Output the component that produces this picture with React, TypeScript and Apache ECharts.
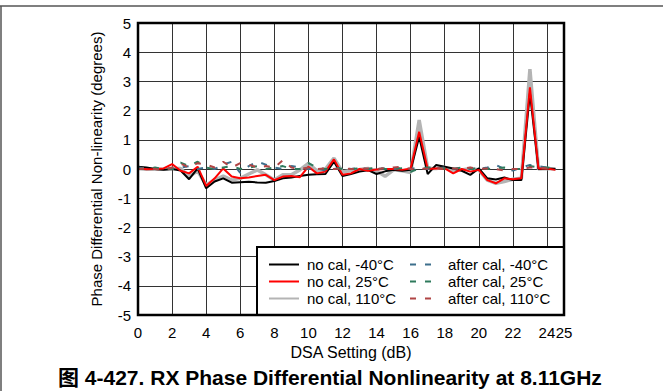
import React, { useEffect, useRef } from "react";
import * as echarts from "echarts";

const dsaSetting = [
  0, 0.5, 1, 1.5, 2, 2.5, 3, 3.5, 4, 4.5, 5, 5.5, 6, 6.5, 7, 7.5, 8, 8.5, 9, 9.5,
  10, 10.5, 11, 11.5, 12, 12.5, 13, 13.5, 14, 14.5, 15, 15.5, 16, 16.5, 17, 17.5,
  18, 18.5, 19, 19.5, 20, 20.5, 21, 21.5, 22, 22.5, 23, 23.5, 24, 24.5,
];

const noCalM40 = [
  0.08, 0.05, 0.0, -0.03, 0.0, -0.05, -0.35, 0.02, -0.66, -0.43, -0.32, -0.47, -0.45, -0.44, -0.46, -0.47, -0.41, -0.32, -0.29, -0.24,
  -0.2, -0.18, -0.17, 0.25, -0.24, -0.17, -0.09, -0.04, -0.17, -0.08, -0.03, -0.06, -0.03, 1.1, -0.17, 0.14,
  0.08, 0.02, -0.06, -0.2, 0.02, -0.32, -0.36, -0.29, -0.38, -0.38, 2.6, 0.0, 0.02, 0.0,
];
const noCal25 = [
  0.02, -0.01, 0.0, 0.02, 0.17, -0.06, -0.15, 0.08, -0.58, -0.32, 0.02, -0.26, -0.32, -0.29, -0.24, -0.2, -0.38, -0.26, -0.24, -0.28,
  0.08, -0.15, -0.09, 0.33, -0.2, -0.15, 0.0, -0.06, -0.02, 0.0, 0.0, -0.03, 0.02, 1.28, 0.0, 0.02,
  0.02, -0.15, 0.0, -0.09, -0.03, -0.38, -0.49, -0.32, -0.35, -0.32, 2.8, 0.02, 0.02, -0.03,
];
const noCal110 = [
  0.02, -0.01, -0.01, -0.01, 0.02, 0.02, -0.26, -0.06, -0.55, -0.38, -0.24, -0.38, -0.32, -0.17, -0.03, -0.2, -0.38, -0.2, -0.2, -0.03,
  0.19, -0.06, 0.0, 0.37, -0.1, -0.05, -0.02, 0.02, -0.06, -0.25, -0.03, -0.06, -0.12, 1.68, 0.02, 0.02,
  0.06, -0.06, -0.03, 0.02, -0.03, -0.38, -0.49, -0.43, -0.35, -0.32, 3.42, 0.0, 0.02, 0.0,
];
const afterCalM40 = [
  0.05, 0.02, 0.0, 0.03, 0.0, 0.05, 0.1, 0.0, 0.05, 0.0, 0.15, 0.25, -0.13, 0.1, 0.25, 0.15, 0.05, 0.0, 0.1, 0.05,
  0.0, 0.02, -0.05, 0.0, 0.05, 0.0, 0.03, 0.0, 0.0, 0.02, 0.0, 0.05, 0.0, 0.05, 0.0, 0.02,
  0.05, 0.0, 0.05, 0.0, 0.0, 0.05, 0.14, 0.0, -0.05, 0.05, 0.14, 0.1, 0.05, 0.0,
];
const afterCal25 = [
  0.02, 0.0, 0.05, 0.0, 0.0, 0.22, 0.1, 0.25, 0.05, 0.0, 0.05, 0.1, 0.0, 0.05, 0.1, 0.0, 0.05, 0.1, 0.0, 0.0,
  0.2, 0.05, 0.0, 0.05, 0.0, 0.0, 0.02, 0.0, 0.05, 0.0, 0.0, 0.03, -0.1, 0.02, 0.05, 0.05,
  0.02, 0.0, 0.05, 0.0, 0.03, 0.0, 0.02, 0.05, 0.0, 0.0, 0.1, 0.05, 0.05, 0.02,
];
const afterCal110 = [
  0.0, 0.03, 0.0, -0.03, 0.05, 0.18, 0.05, 0.2, 0.15, 0.05, 0.25, 0.05, 0.2, 0.15, 0.05, 0.1, 0.05, 0.3, 0.05, 0.0,
  0.05, 0.0, 0.02, 0.0, 0.03, 0.0, 0.0, 0.02, 0.0, 0.03, 0.05, 0.08, 0.0, 0.0, 0.02, 0.05,
  0.0, 0.02, 0.0, 0.05, 0.0, 0.02, 0.0, -0.05, 0.0, 0.0, 0.05, 0.05, 0.02, 0.0,
];

const seriesNames = [
  "no cal, -40°C",
  "no cal, 25°C",
  "no cal, 110°C",
  "after cal, -40°C",
  "after cal, 25°C",
  "after cal, 110°C",
];

const titleText = "图 4-427. RX Phase Differential Nonlinearity at 8.11GHz";
const xAxisName = "DSA Setting (dB)";
const yAxisName = "Phase Differential Non-linearity (degrees)";

const FONT = '"Liberation Sans", Arial, "Noto Sans CJK SC", sans-serif';

export default function App() {
  const ref = useRef<HTMLDivElement>(null);
  useEffect(() => {
    const chart = echarts.init(ref.current!, null, { renderer: "svg" });
    const pts = (ys: number[]) => dsaSetting.map((x, i) => [x, ys[i]]);
    const solid = (name: string, data: number[], color: string, width: number, z: number) => ({
      type: "line",
      name,
      data: pts(data),
      symbol: "none",
      z,
      lineStyle: { color, width },
      itemStyle: { color },
    });
    const dashed = (name: string, data: number[], color: string) => ({
      type: "line",
      name,
      data: pts(data),
      symbol: "none",
      z: 2,
      lineStyle: { color, width: 2, type: [6, 9] },
      itemStyle: { color },
    });
    const legendText = (padLeft: number) => ({
      fontSize: 15,
      fontFamily: FONT,
      color: "#000",
      lineHeight: 17,
      padding: [0, 0, 0, padLeft],
    });
    chart.setOption({
      animation: false,
      backgroundColor: "#fff",
      textStyle: { fontFamily: FONT },
      title: {
        text: titleText,
        left: 58,
        top: 367,
        padding: 0,
        textStyle: { fontSize: 21, fontWeight: "bold", fontFamily: FONT, color: "#000" },
      },
      grid: { left: 138, top: 23, width: 426, height: 292 },
      xAxis: {
        type: "value",
        min: 0,
        max: 25,
        interval: 2,
        name: xAxisName,
        nameLocation: "middle",
        nameGap: 22,
        nameTextStyle: { fontSize: 16, color: "#000", fontFamily: FONT },
        axisLine: { show: false },
        axisTick: { show: false },
        axisLabel: { fontSize: 15, color: "#000", margin: 10, fontFamily: FONT },
        splitLine: { show: true, lineStyle: { color: "#333", width: 1 } },
      },
      yAxis: {
        type: "value",
        min: -5,
        max: 5,
        interval: 1,
        name: yAxisName,
        nameLocation: "middle",
        nameGap: 34,
        nameTextStyle: { fontSize: 15, color: "#000", fontFamily: FONT },
        axisLine: { show: false },
        axisTick: { show: false },
        axisLabel: { fontSize: 15, color: "#000", margin: 7, fontFamily: FONT },
        splitLine: { show: true, lineStyle: { color: "#333", width: 1 } },
      },
      legend: [
        {
          data: seriesNames.slice(0, 3),
          left: 268,
          top: 256,
          orient: "vertical",
          itemWidth: 30,
          itemHeight: 10,
          itemGap: 0,
          padding: 0,
          selectedMode: false,
          itemStyle: { opacity: 0 },
          textStyle: legendText(3),
        },
        {
          data: seriesNames.slice(3),
          left: 409,
          top: 256,
          orient: "vertical",
          itemWidth: 21,
          itemHeight: 10,
          itemGap: 0,
          padding: 0,
          selectedMode: false,
          itemStyle: { opacity: 0 },
          textStyle: legendText(12),
        },
      ],
      graphic: [
        {
          type: "line",
          z: 10,
          shape: { x1: 0, y1: 6, x2: 663, y2: 6 },
          style: { stroke: "#555", lineWidth: 1.5 },
        },
        {
          type: "line",
          z: 10,
          shape: { x1: 1, y1: 6, x2: 1, y2: 391 },
          style: { stroke: "#555", lineWidth: 1.5 },
        },
        {
          type: "rect",
          z: 3,
          shape: { x: 257, y: 247, width: 307, height: 68 },
          style: { fill: "#fff", stroke: "#000", lineWidth: 2 },
        },
        {
          type: "rect",
          z: 5,
          shape: { x: 138, y: 23, width: 426, height: 292 },
          style: { fill: "none", stroke: "#000", lineWidth: 2.5 },
        },
      ],
      series: [
        solid(seriesNames[2], noCal110, "#b4b4b4", 3.5, 2),
        solid(seriesNames[0], noCalM40, "#000000", 2, 2),
        solid(seriesNames[1], noCal25, "#ff0000", 2, 2),
        dashed(seriesNames[3], afterCalM40, "#3d6f8c"),
        dashed(seriesNames[4], afterCal25, "#2e7a5c"),
        dashed(seriesNames[5], afterCal110, "#b04545"),
      ],
    });
    return () => chart.dispose();
  }, []);
  return (
    <div
      ref={ref}
      style={{ position: "fixed", left: 0, top: 0, width: 663, height: 391, background: "#fff" }}
    />
  );
}
